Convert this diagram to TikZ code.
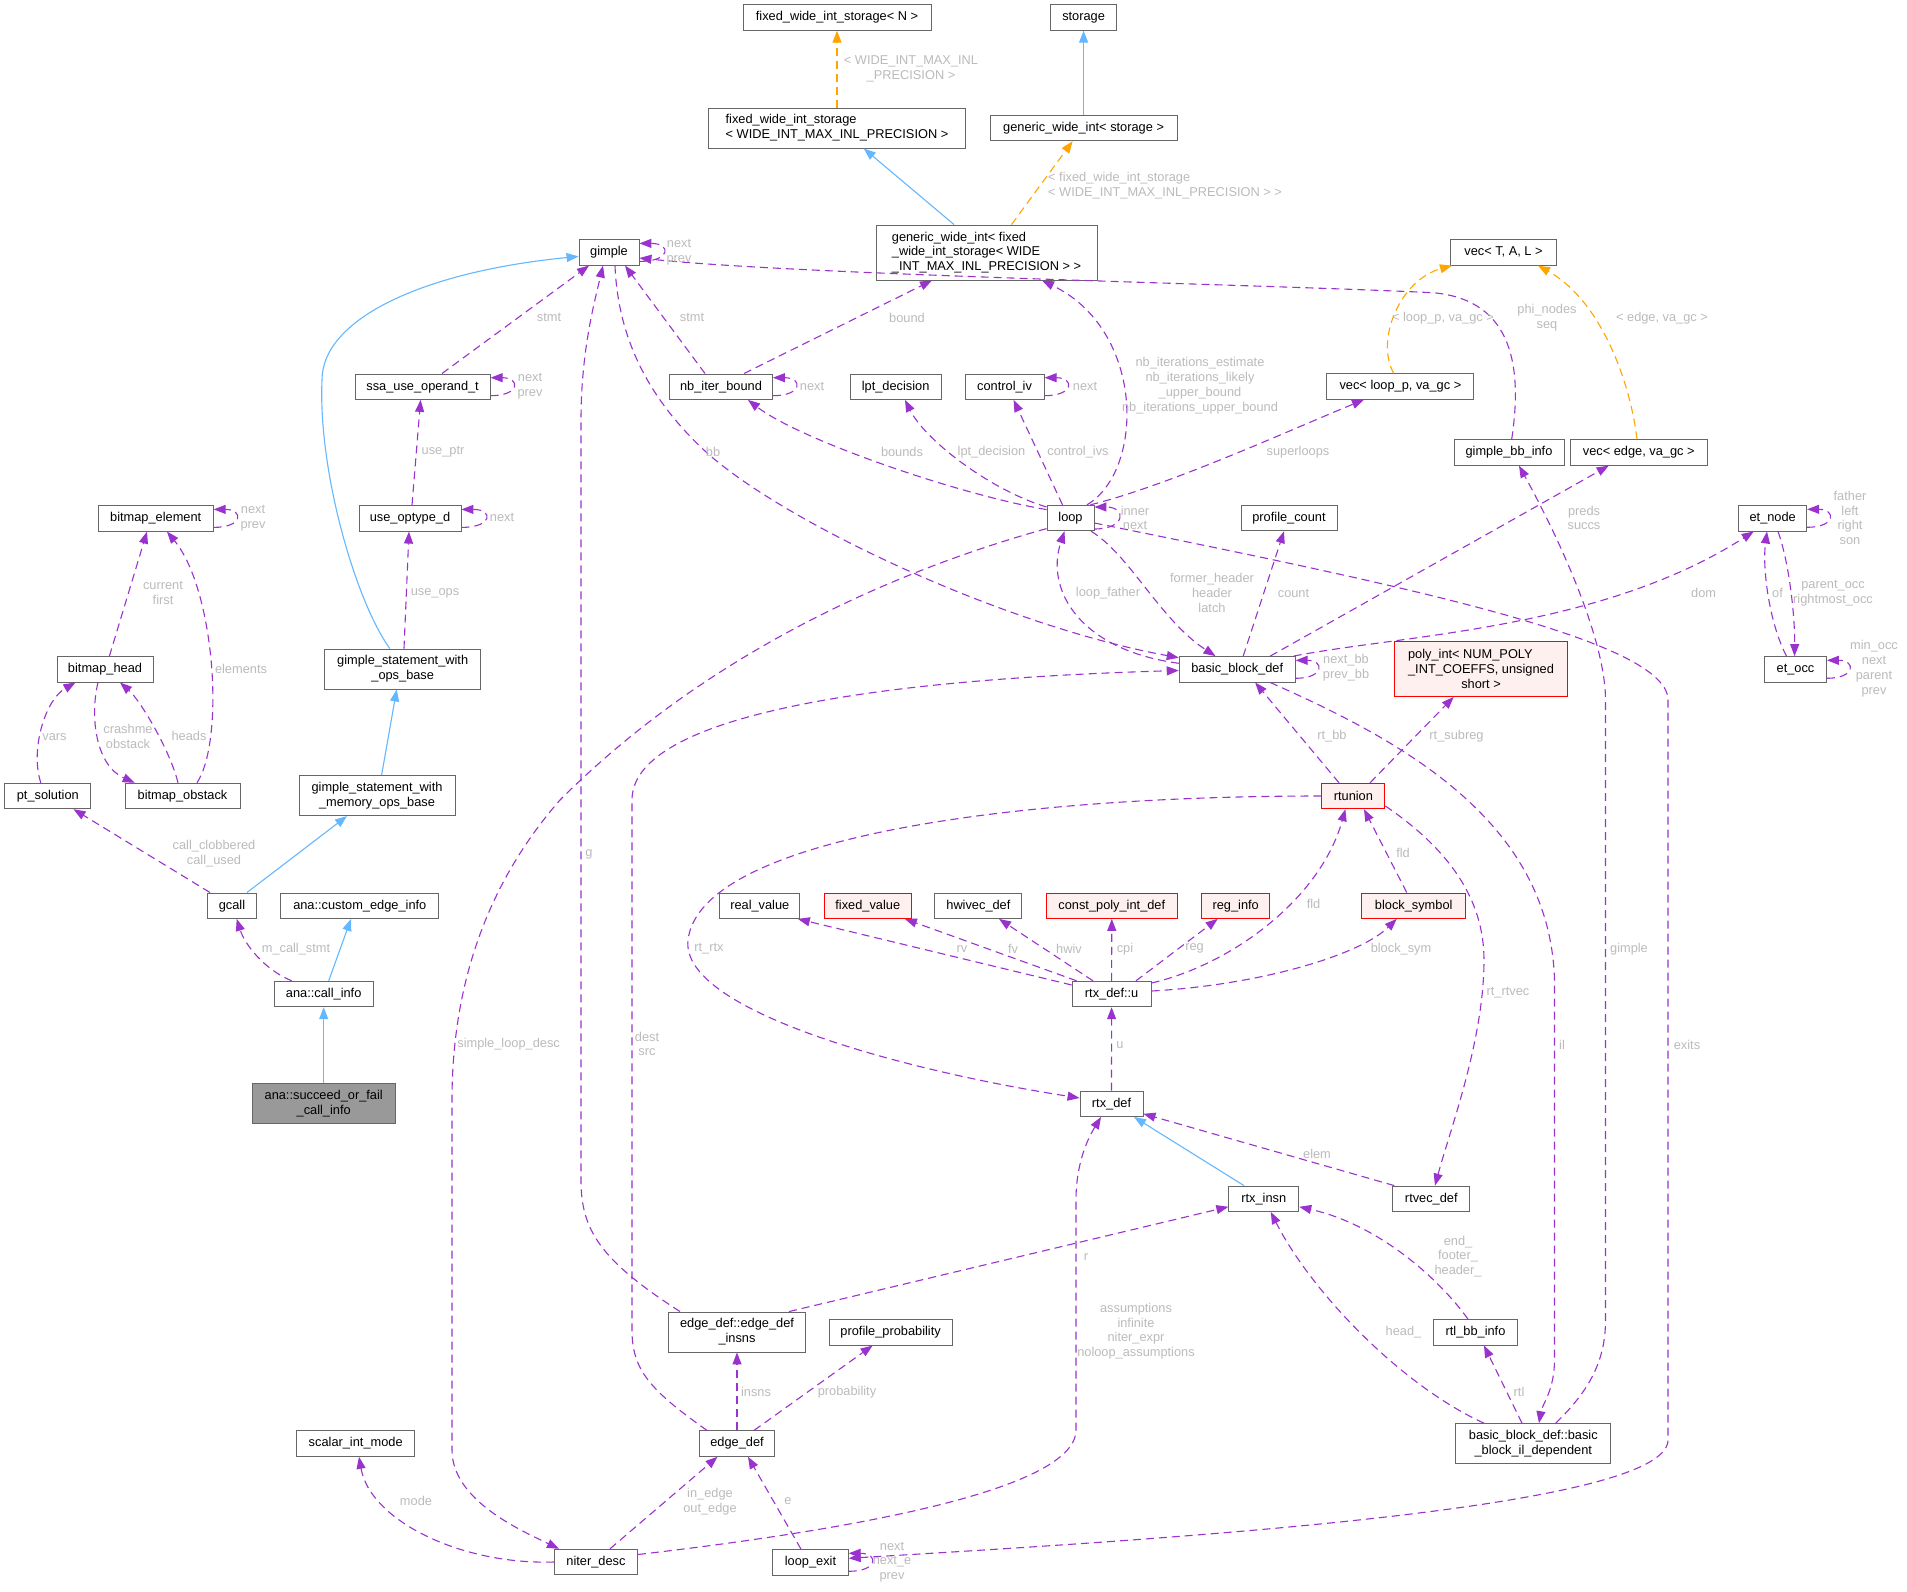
\documentclass[tikz,border=0pt]{standalone}
\usepackage{fontspec}
\setmainfont{Liberation Sans}
\usetikzlibrary{arrows.meta}
\definecolor{purp}{HTML}{9A32CD}
\definecolor{blu}{HTML}{63B8FF}
\definecolor{orng}{HTML}{FFA500}
\definecolor{labg}{HTML}{BBBBBB}
\definecolor{bord}{HTML}{666666}
\definecolor{redfill}{HTML}{FFF0F0}
\definecolor{gfill}{HTML}{999999}
\newcommand\dgfont{\fontsize{12.8}{14.8}\selectfont}
\tikzset{
  nd/.style={draw=bord, fill=white, line width=0.9pt, inner sep=0pt, minimum height=25.5pt, font=\dgfont, text=black, align=center},
  ndtwo/.style={nd, minimum height=40pt},
  ndthree/.style={nd, minimum height=55pt},
  rednd/.style={draw=red, fill=redfill},
  lab/.style={text=labg, font=\dgfont, inner sep=0pt, align=center},
  use/.style={draw=purp, line width=1.1pt, dash pattern=on 8pt off 5pt, -{Triangle[length=12pt,width=9pt]}},
  tmpl/.style={draw=orng, line width=1.1pt, dash pattern=on 8pt off 5pt, -{Triangle[length=12pt,width=9pt]}},
  inh/.style={draw=blu, line width=1.1pt, -{Triangle[length=12pt,width=9pt]}},
}
\begin{document}
\begin{tikzpicture}[x=1pt,y=-1pt]
\fill[white] (0,0) rectangle (1907,1592);
\useasboundingbox (0,0) rectangle (1907,1592);

% ---------- nodes ----------
\node[nd, minimum width=188pt] (fixedN) at (837,17.5) {fixed\_wide\_int\_storage< N >};
\node[nd, minimum width=66pt] (storage) at (1083.6,17.5) {storage};
\node[ndtwo, minimum width=257pt, align=left] (fixedW) at (837,128) {fixed\_wide\_int\_storage\\< WIDE\_INT\_MAX\_INL\_PRECISION >};
\node[nd, minimum width=187pt] (gwiS) at (1083.6,128) {generic\_wide\_int< storage >};
\node[ndthree, minimum width=221pt, align=left] (gwiF) at (986.5,252.5) {generic\_wide\_int< fixed\\\_wide\_int\_storage< WIDE\\\_INT\_MAX\_INL\_PRECISION > >};
\node[nd, minimum width=60pt] (gimple) at (609,252.4) {gimple};
\node[nd, minimum width=106pt] (vecTAL) at (1503.5,252.4) {vec< T, A, L >};
\node[nd, minimum width=135pt] (ssa) at (422.6,386.7) {ssa\_use\_operand\_t};
\node[nd, minimum width=103pt] (nb) at (721,386.7) {nb\_iter\_bound};
\node[nd, minimum width=91pt] (lpt) at (895.6,386.7) {lpt\_decision};
\node[nd, minimum width=79pt] (ctrl) at (1004.6,386.7) {control\_iv};
\node[nd, minimum width=147pt] (vecLoop) at (1400.4,386.5) {vec< loop\_p, va\_gc >};
\node[nd, minimum width=110pt] (gbb) at (1509,452.5) {gimple\_bb\_info};
\node[nd, minimum width=137pt] (vecEdge) at (1638.7,452.5) {vec< edge, va\_gc >};
\node[nd, minimum width=115pt] (bitEl) at (155.7,518.4) {bitmap\_element};
\node[nd, minimum width=102pt] (useOpt) at (410,518.4) {use\_optype\_d};
\node[nd, minimum width=47pt] (loop) at (1070.5,518) {loop};
\node[nd, minimum width=96pt] (profCount) at (1289,518) {profile\_count};
\node[nd, minimum width=68pt] (etNode) at (1772.7,518.3) {et\_node};
\node[nd, minimum width=96pt] (bitHead) at (105,669.3) {bitmap\_head};
\node[ndtwo, minimum width=156pt] (gswob) at (402.7,669) {gimple\_statement\_with\\\_ops\_base};
\node[nd, minimum width=116pt] (bbd) at (1237.2,669.3) {basic\_block\_def};
\node[ndthree, rednd, minimum width=173pt] (polyInt) at (1481,669) {\rlap{poly\_int< NUM\_POLY}\phantom{\_INT\_COEFFS, unsigned}\\\_INT\_COEFFS, unsigned\\short >};
\node[nd, minimum width=62pt] (etOcc) at (1795.5,669.3) {et\_occ};
\node[nd, minimum width=86pt] (ptSol) at (47.8,796) {pt\_solution};
\node[nd, minimum width=115pt] (bitObs) at (182.5,796) {bitmap\_obstack};
\node[ndtwo, minimum width=156pt] (gswmob) at (377,795.6) {gimple\_statement\_with\\\_memory\_ops\_base};
\node[nd, rednd, minimum width=63pt] (rtunion) at (1353.4,796) {rtunion};
\node[nd, minimum width=49pt] (gcall) at (232,905.7) {gcall};
\node[nd, minimum width=158pt] (custEdge) at (359.8,905.7) {ana::custom\_edge\_info};
\node[nd, minimum width=80pt] (realValue) at (759.8,905.7) {real\_value};
\node[nd, rednd, minimum width=87pt] (fixedValue) at (867.8,905.7) {fixed\_value};
\node[nd, minimum width=87pt] (hwivec) at (978.4,905.7) {hwivec\_def};
\node[nd, rednd, minimum width=131pt] (constPoly) at (1111.8,905.7) {const\_poly\_int\_def};
\node[nd, rednd, minimum width=68pt] (regInfo) at (1235.7,905.7) {reg\_info};
\node[nd, rednd, minimum width=104pt] (blockSym) at (1413.7,905.7) {block\_symbol};
\node[nd, minimum width=99pt] (callInfo) at (323.7,994) {ana::call\_info};
\node[nd, minimum width=79pt] (rtxU) at (1111.6,994) {rtx\_def::u};
\node[ndtwo, fill=gfill, minimum width=143pt] (succeed) at (323.7,1103.5) {ana::succeed\_or\_fail\\\_call\_info};
\node[nd, minimum width=63pt] (rtxDef) at (1111.5,1103.8) {rtx\_def};
\node[nd, minimum width=70pt] (rtxInsn) at (1263.8,1198.8) {rtx\_insn};
\node[nd, minimum width=77pt] (rtvec) at (1431.3,1198.8) {rtvec\_def};
\node[ndtwo, minimum width=137pt] (edgeInsns) at (737,1332) {edge\_def::edge\_def\\\_insns};
\node[nd, minimum width=123pt] (profProb) at (890.6,1332.3) {profile\_probability};
\node[nd, minimum width=84pt] (rtlbb) at (1475.5,1332.3) {rtl\_bb\_info};
\node[ndtwo, minimum width=155pt] (bbdil) at (1533.3,1443.6) {basic\_block\_def::basic\\\_block\_il\_dependent};
\node[nd, minimum width=118pt] (scalarMode) at (355.7,1443.6) {scalar\_int\_mode};
\node[nd, minimum width=75pt] (edgeDef) at (737,1443.6) {edge\_def};
\node[nd, minimum width=83pt] (niter) at (596,1562) {niter\_desc};
\node[nd, minimum width=75.5pt] (loopExit) at (810.5,1562.3) {loop\_exit};

% ---------- inheritance (blue) ----------
\draw[inh] (gwiS.north) -- (storage.south);
\draw[inh] ([xshift=-32.5pt]gwiF.north) -- ([xshift=26.7pt]fixedW.south);
\draw[inh] ([xshift=-12.9pt]gswob.north) .. controls (355,600) and (318,470) .. (322,380) .. controls (322,320) and (420,272) .. ([yshift=-4pt]gimple.west);
\draw[inh] ([xshift=4.6pt]gswmob.north) -- ([xshift=-6pt]gswob.south);
\draw[inh] ([xshift=15pt]gcall.north) -- ([xshift=-30pt]gswmob.south);
\draw[inh] ([xshift=5pt]callInfo.north) -- ([xshift=-8.8pt]custEdge.south);
\draw[inh] (succeed.north) -- (callInfo.south);
\draw[inh] ([xshift=-19.8pt]rtxInsn.north) -- ([xshift=22.5pt]rtxDef.south);

% ---------- template instances (orange) ----------
\draw[tmpl] (fixedW.north) -- (fixedN.south);
\draw[tmpl] ([xshift=25pt]gwiF.north) -- ([xshift=-11pt]gwiS.south);
\draw[tmpl] ([xshift=-6.7pt]vecLoop.north) .. controls (1375,340) and (1400,280) .. ([xshift=-51.5pt]vecTAL.south);
\draw[tmpl] ([xshift=-1.7pt]vecEdge.north) .. controls (1630,380) and (1600,300) .. ([xshift=34.5pt]vecTAL.south);

% ---------- usage (purple) ----------
\draw[use] ([yshift=-9pt]gimple.east) .. controls +(32,0) and +(32,0) .. ([yshift=9pt]gimple.east);
\draw[use] ([xshift=19.4pt]ssa.north) -- ([xshift=-20pt]gimple.south);
\draw[use] ([yshift=-9pt]ssa.east) .. controls +(30,0) and +(30,0) .. ([yshift=9pt]ssa.east);
\draw[use] ([xshift=2pt]useOpt.north) -- ([xshift=-2pt]ssa.south);
\draw[use] ([yshift=-9pt]useOpt.east) .. controls +(32,0) and +(32,0) .. ([yshift=9pt]useOpt.east);
\draw[use] ([xshift=1.3pt]gswob.north) -- ([xshift=-1pt]useOpt.south);
\draw[use] ([yshift=-9pt]bitEl.east) .. controls +(30,0) and +(30,0) .. ([yshift=9pt]bitEl.east);
\draw[use] ([xshift=4.4pt]bitHead.north) -- ([xshift=-8.7pt]bitEl.south);
\draw[use] ([xshift=14.5pt]bitObs.north) .. controls (225,740) and (215,590) .. ([xshift=11.3pt]bitEl.south);
\draw[use] ([xshift=-4.5pt]bitObs.north) .. controls (170,750) and (140,700) .. ([xshift=15pt]bitHead.south);
\draw[use] ([xshift=-7pt]bitHead.south) .. controls (90,715) and (95,765) .. ([xshift=-47.8pt]bitObs.north);
\draw[use] ([xshift=-7pt]ptSol.north) .. controls (30,750) and (45,700) .. ([xshift=-29.5pt]bitHead.south);
\draw[use] ([xshift=-22pt]gcall.north) -- ([xshift=25.7pt]ptSol.south);
\draw[use] ([xshift=-32pt]callInfo.north) .. controls (265,970) and (245,945) .. ([xshift=4.7pt]gcall.south);
\draw[use] ([xshift=-16pt]nb.north) -- ([xshift=16pt]gimple.south);
\draw[use] ([xshift=23pt]nb.north) -- ([xshift=-54.5pt]gwiF.south);
\draw[use] ([yshift=-9pt]nb.east) .. controls +(30,0) and +(30,0) .. ([yshift=9pt]nb.east);
\draw[use] ([yshift=8.4pt]loop.west) .. controls (960,495) and (800,440) .. ([xshift=27pt]nb.south);
\draw[use] ([yshift=11pt]loop.west) .. controls (990,490) and (925,440) .. ([xshift=9.4pt]lpt.south);
\draw[use] ([xshift=-8pt]loop.north) -- ([xshift=9pt]ctrl.south);
\draw[use] ([yshift=-9pt]ctrl.east) .. controls +(30,0) and +(30,0) .. ([yshift=9pt]ctrl.east);
\draw[use] ([xshift=16.5pt]loop.north) .. controls (1145,470) and (1145,330) .. ([xshift=55.5pt]gwiF.south);
\draw[use] ([xshift=20pt]loop.north) .. controls (1170,485) and (1290,430) .. ([xshift=-36.4pt]vecLoop.south);
\draw[use] ([yshift=-11pt]loop.east) .. controls +(32,0) and +(32,0) .. ([yshift=11pt]loop.east);
\draw[use] ([xshift=6pt]gimple.south) .. controls (618,340) and (650,400) .. (705,451) .. controls (780,520) and (1000,625) .. ([yshift=11.6pt]bbd.west);
\draw[use] ([xshift=2.7pt]gbb.north) .. controls (1522,370) and (1515,300) .. (1433,292.7) .. controls (1250,284) and (800,275) .. ([yshift=-5.6pt]gimple.east);
\draw[use] ([xshift=20.5pt]loop.south) .. controls (1130,555) and (1160,620) .. ([xshift=-21.7pt]bbd.north);
\draw[use] ([yshift=6pt]bbd.west) .. controls (1080,650) and (1045,590) .. ([xshift=-6pt]loop.south);
\draw[use] ([xshift=6pt]bbd.north) -- ([xshift=-5pt]profCount.south);
\draw[use] ([xshift=33pt]bbd.north) -- ([xshift=-30pt]vecEdge.south);
\draw[use] ([xshift=-2pt]bbd.north east) .. controls (1400,635) and (1600,630) .. ([xshift=-19pt]etNode.south);
\draw[use] ([yshift=-9pt]bbd.east) .. controls +(29,0) and +(29,0) .. ([yshift=9pt]bbd.east);
\draw[use] ([yshift=-9pt]etNode.east) .. controls +(29,0) and +(29,0) .. ([yshift=9pt]etNode.east);
\draw[use] ([xshift=-9pt]etOcc.north) .. controls (1770,625) and (1762,570) .. ([xshift=-5.7pt]etNode.south);
\draw[use] ([xshift=5.3pt]etNode.south) .. controls (1790,565) and (1795,620) .. ([xshift=-1pt]etOcc.north);
\draw[use] ([yshift=-9pt]etOcc.east) .. controls +(29,0) and +(29,0) .. ([yshift=9pt]etOcc.east);
\draw[use] ([xshift=22.4pt]bbdil.north) .. controls (1590,1390) and (1605.5,1360) .. (1605.5,1320) -- (1605.5,700) .. controls (1605.5,640) and (1560,540) .. ([xshift=10pt]gbb.south);
\draw[use] ([xshift=33pt]bbd.south) .. controls (1400,740) and (1550,820) .. (1554.5,980) -- (1554.5,1360) .. controls (1554.5,1390) and (1542,1405) .. ([xshift=5.7pt]bbdil.north);
\draw[use] ([xshift=-14.4pt]rtunion.north) -- ([xshift=18pt]bbd.south);
\draw[use] ([xshift=16.6pt]rtunion.north) -- ([xshift=-27.3pt]polyInt.south);
\draw[use] (rtunion.west) .. controls (1000,796) and (700,840) .. (688,940) .. controls (680,1010) and (900,1070) .. ([yshift=5.8pt]rtxDef.west);
\draw[use] ([yshift=-10pt]rtunion.east) .. controls (1450,850) and (1484,900) .. (1484,960) .. controls (1484,1040) and (1450,1130) .. ([xshift=3.7pt]rtvec.north);
\draw[use] ([xshift=-7pt]blockSym.north) -- ([xshift=10.6pt]rtunion.south);
\draw[use] ([yshift=11pt]rtxU.east) .. controls (1230,965) and (1320,900) .. ([xshift=-8pt]rtunion.south);
\draw[use] ([yshift=9pt]rtxU.west) -- ([xshift=38pt]realValue.south);
\draw[use] ([xshift=-35pt]rtxU.north) -- ([xshift=37pt]fixedValue.south);
\draw[use] ([xshift=-18.6pt]rtxU.north) -- ([xshift=20.6pt]hwivec.south);
\draw[use] (rtxU.north) -- (constPoly.south);
\draw[use] ([xshift=24.4pt]rtxU.north) -- ([xshift=-18pt]regInfo.south);
\draw[use] ([yshift=3pt]rtxU.east) .. controls (1260,985) and (1360,955) .. ([xshift=-17pt]blockSym.south);
\draw[use] (rtxDef.north) -- (rtxU.south);
\draw[use] ([xshift=-37pt]rtvec.north) -- ([yshift=-10pt]rtxDef.east);
\draw[use] ([xshift=-7.5pt]rtlbb.north) .. controls (1440,1280) and (1380,1225) .. ([yshift=-8pt]rtxInsn.east);
\draw[use] ([xshift=-49.3pt]bbdil.north) .. controls (1400,1385) and (1310,1290) .. ([xshift=7pt]rtxInsn.south);
\draw[use] ([xshift=-11.3pt]bbdil.north) -- ([xshift=8.5pt]rtlbb.south);
\draw[use] ([xshift=52pt]edgeInsns.north) -- ([yshift=-8pt]rtxInsn.west);
\draw[use] ([xshift=-57pt]edgeInsns.north) .. controls (600,1260) and (581,1230) .. (581,1180) -- (581,420) .. controls (581,350) and (595,300) .. ([xshift=-6pt]gimple.south);
\draw[use] (edgeDef.north) -- (edgeInsns.south);
\draw[use] ([xshift=17pt]edgeDef.north) -- ([xshift=-18pt]profProb.south);
\draw[use] ([xshift=-30pt]edgeDef.north) .. controls (650,1390) and (632,1370) .. (632,1330) -- (632,800) .. controls (632,720) and (850,680) .. ([yshift=-1.2pt]bbd.west);
\draw[use] ([xshift=14pt]niter.north) -- ([xshift=-19.5pt]edgeDef.south);
\draw[use] (niter.west) .. controls (460,1565) and (370,1520) .. ([xshift=3.3pt]scalarMode.south);
\draw[use] ([yshift=7.5pt]niter.east) .. controls (850,1530) and (1076,1490) .. (1076,1430) -- (1076,1200) .. controls (1076,1160) and (1090,1135) .. ([xshift=-10.5pt]rtxDef.south);
\draw[use] ([yshift=-10.6pt]loop.west) .. controls (880,575) and (700,660) .. (560,800) .. controls (490,880) and (452,980) .. (452,1100) -- (452,1450) .. controls (452,1500) and (520,1530) .. ([xshift=-37pt]niter.north);
\draw[use] ([xshift=-9.5pt]loopExit.north) -- ([xshift=11pt]edgeDef.south);
\draw[use] ([yshift=-9pt]loopExit.east) .. controls +(30,0) and +(30,0) .. ([yshift=9pt]loopExit.east);
\draw[use] ([yshift=-5pt]loop.east) .. controls (1400,585) and (1668,640) .. (1668,700) -- (1668,1440) .. controls (1668,1510) and (1150,1540) .. ([yshift=4pt]loopExit.east);

% ---------- labels ----------
\node[lab] (l1) at (911,68.5) {< WIDE\_INT\_MAX\_INL\\\_PRECISION >};
\node[lab, align=left, anchor=west] (l2) at (1048,185.5) {< fixed\_wide\_int\_storage\\< WIDE\_INT\_MAX\_INL\_PRECISION > >};
\node[lab] (l3) at (679,252) {next\\prev};
\node[lab] (l4) at (549,317.5) {stmt};
\node[lab] (l5) at (530,386) {next\\prev};
\node[lab] (l6) at (443,452) {use\_ptr};
\node[lab] (l7) at (502,517.6) {next};
\node[lab] (l8) at (253,518) {next\\prev};
\node[lab] (l9) at (163,593) {current\\first};
\node[lab] (l10) at (241,668.8) {elements};
\node[lab] (l11) at (189,736) {heads};
\node[lab] (l12) at (128,736.4) {crashme\\obstack};
\node[lab] (l13) at (54.5,737) {vars};
\node[lab] (l14) at (214,853.7) {call\_clobbered\\call\_used};
\node[lab] (l15) at (296,948.7) {m\_call\_stmt};
\node[lab] (l15b) at (435,593) {use\_ops};
\node[lab] (l16) at (692,317.5) {stmt};
\node[lab] (l17) at (907,317.5) {bound};
\node[lab] (l18) at (812,386) {next};
\node[lab] (l19) at (902,452) {bounds};
\node[lab] (l20) at (991.5,452) {lpt\_decision};
\node[lab] (l21) at (1078,452) {control\_ivs};
\node[lab] (l22) at (1085,386) {next};
\node[lab] (l23) at (1200,385.7) {nb\_iterations\_estimate\\nb\_iterations\_likely\\\_upper\_bound\\nb\_iterations\_upper\_bound};
\node[lab] (l24) at (1298,452) {superloops};
\node[lab] (l25) at (1135,518) {inner\\next};
\node[lab] (l26) at (713,452) {bb};
\node[lab] (l27) at (1547,318) {phi\_nodes\\seq};
\node[lab] (l28) at (1212,593) {former\_header\\header\\latch};
\node[lab] (l29) at (1108,593) {loop\_father};
\node[lab] (l30) at (1293.5,593) {count};
\node[lab] (l31) at (1584,518) {preds\\succs};
\node[lab] (l32) at (1703.6,593) {dom};
\node[lab] (l33) at (1346,668) {next\_bb\\prev\_bb};
\node[lab] (l34) at (1850,518) {father\\left\\right\\son};
\node[lab] (l35) at (1777.5,593) {of};
\node[lab] (l36) at (1833,593) {parent\_occ\\rightmost\_occ};
\node[lab] (l37) at (1874,668.6) {min\_occ\\next\\parent\\prev};
\node[lab] (l38) at (1629,948.7) {gimple};
\node[lab] (l39) at (1562,1044.5) {il};
\node[lab] (l40) at (1332,736) {rt\_bb};
\node[lab] (l41) at (1456.5,736) {rt\_subreg};
\node[lab] (l42) at (709,948.7) {rt\_rtx};
\node[lab] (l43) at (1508,992.8) {rt\_rtvec};
\node[lab] (l44) at (1403,853.3) {fld};
\node[lab] (l45) at (1313.5,904) {fld};
\node[lab] (l46) at (962,948.7) {rv};
\node[lab] (l47) at (1013,948.7) {fv};
\node[lab] (l48) at (1069,948.7) {hwiv};
\node[lab] (l49) at (1125,948.7) {cpi};
\node[lab] (l50) at (1194.5,948.7) {reg};
\node[lab] (l51) at (1401,948.7) {block\_sym};
\node[lab] (l52) at (1120,1045) {u};
\node[lab] (l53) at (1317,1154) {elem};
\node[lab] (l54) at (1458,1256.6) {end\_\\footer\_\\header\_};
\node[lab] (l55) at (1403.5,1331.7) {head\_};
\node[lab] (l56) at (1519,1391.6) {rtl};
\node[lab] (l57) at (1086,1256.6) {r};
\node[lab] (l58) at (589,854.7) {g};
\node[lab] (l59) at (756,1392) {insns};
\node[lab] (l60) at (847,1392) {probability};
\node[lab] (l61) at (647,1044) {dest\\src};
\node[lab] (l62) at (710,1501.6) {in\_edge\\out\_edge};
\node[lab] (l63) at (416,1501) {mode};
\node[lab] (l64) at (1136,1331.2) {assumptions\\infinite\\niter\_expr\\noloop\_assumptions};
\node[lab] (l65) at (508.6,1044.5) {simple\_loop\_desc};
\node[lab] (l66) at (788,1501) {e};
\node[lab] (l67) at (892,1562) {next\\next\_e\\prev};
\node[lab] (l68) at (1687,1044.5) {exits};
\node[lab] (l69) at (1443,317.8) {< loop\_p, va\_gc >};
\node[lab] (l70) at (1662,317.8) {< edge, va\_gc >};
\end{tikzpicture}
\end{document}
